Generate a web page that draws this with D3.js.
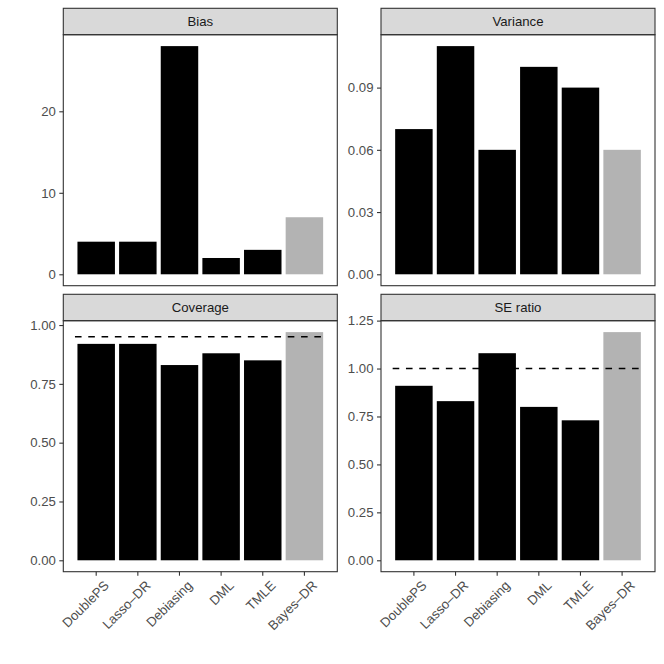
<!DOCTYPE html>
<html>
<head>
<meta charset="utf-8">
<script src="https://cdn.jsdelivr.net/npm/d3@7"></script>
<style>
  body { margin: 0; background: #fff; }
  text { font-family: "Liberation Sans", Arial, sans-serif; }
</style>
</head>
<body>
<div id="chart"></div>
<script>
// data
var methods = ["DoublePS", "Lasso\u2013DR", "Debiasing", "DML", "TMLE", "Bayes\u2013DR"];
var panelTitles = ["Bias", "Variance", "Coverage", "SE ratio"];
var biasValues = [4, 4, 28, 2, 3, 7];
var varianceValues = [0.07, 0.11, 0.06, 0.10, 0.09, 0.06];
var coverageValues = [0.92, 0.92, 0.83, 0.88, 0.85, 0.97];
var seRatioValues = [0.91, 0.83, 1.08, 0.80, 0.73, 1.19];
var biasTicks = [0, 10, 20];
var varianceTicks = [0, 0.03, 0.06, 0.09];
var coverageTicks = [0, 0.25, 0.5, 0.75, 1];
var seRatioTicks = [0, 0.25, 0.5, 0.75, 1, 1.25];
var refLines = [null, null, 0.95, 1.00];

var panels = [
    {title: panelTitles[0], values: biasValues, ticks: biasTicks, fmt: d3.format("d"), ref: refLines[0]},
    {title: panelTitles[1], values: varianceValues, ticks: varianceTicks, fmt: d3.format(".2f"), ref: refLines[1]},
    {title: panelTitles[2], values: coverageValues, ticks: coverageTicks, fmt: d3.format(".2f"), ref: refLines[2]},
    {title: panelTitles[3], values: seRatioValues, ticks: seRatioTicks, fmt: d3.format(".2f"), ref: refLines[3]}
];

var W = 664, H = 664;
var colX = [63.3, 381], rowY = [8.3, 294.3];
var pw = 274, stripH = 26.4, ph = 251;
var fontSize = "13.2px";

var svg = d3.select("#chart").append("svg")
    .attr("width", W)
    .attr("height", H);

panels.forEach(function(p, i){
    var col = i % 2, row = Math.floor(i / 2);
    var g = svg.append("g")
        .attr("transform", "translate(" + colX[col] + "," + rowY[row] + ")");

    // strip
    g.append("rect")
        .attr("x", 0).attr("y", 0)
        .attr("width", pw).attr("height", stripH)
        .attr("fill", "#d9d9d9")
        .attr("stroke", "#333333")
        .attr("stroke-width", 1.1);
    g.append("text")
        .attr("x", pw / 2).attr("y", stripH / 2)
        .attr("dy", "0.36em")
        .attr("text-anchor", "middle")
        .attr("font-size", fontSize)
        .attr("fill", "#1a1a1a")
        .text(p.title);

    var panel = g.append("g").attr("transform", "translate(0," + stripH + ")");

    var x = d3.scaleBand()
        .domain(methods)
        .range([0, pw])
        .paddingInner(0.1)
        .paddingOuter(0.34);

    var maxV = d3.max(p.values);
    var y = d3.scaleLinear()
        .domain([-0.05 * maxV, maxV * 1.05])
        .range([ph, 0]);

    panel.selectAll(".bar")
        .data(p.values)
        .enter()
        .append("rect")
        .attr("class", "bar")
        .attr("x", function(d, j){ return x(methods[j]); })
        .attr("width", x.bandwidth())
        .attr("y", function(d){ return y(d); })
        .attr("height", function(d){ return y(0) - y(d); })
        .attr("fill", function(d, j){ return j === methods.length - 1 ? "#b3b3b3" : "#000000"; });

    if (p.ref !== null) {
        panel.append("line")
            .attr("x1", x(methods[0]) - 2.5)
            .attr("x2", x(methods[methods.length - 1]) + x.bandwidth() + 2.5)
            .attr("y1", y(p.ref)).attr("y2", y(p.ref))
            .attr("stroke", "#000")
            .attr("stroke-width", 1.6)
            .attr("stroke-dasharray", "6.6,6.7");
    }

    panel.append("rect")
        .attr("x", 0).attr("y", 0)
        .attr("width", pw).attr("height", ph)
        .attr("fill", "none")
        .attr("stroke", "#333333")
        .attr("stroke-width", 1.1);

    // y axis
    var yAxis = panel.append("g")
        .call(d3.axisLeft(y).tickValues(p.ticks).tickFormat(p.fmt).tickSize(4).tickPadding(3.5));
    yAxis.select(".domain").remove();
    yAxis.selectAll(".tick line").attr("stroke", "#333333").attr("stroke-width", 1.1);
    yAxis.selectAll(".tick text")
        .attr("font-size", fontSize)
        .attr("fill", "#4d4d4d")
        .style("font-family", "'Liberation Sans', Arial, sans-serif");

    // x axis only on the bottom row
    if (row === 1) {
        var xAxis = panel.append("g")
            .attr("transform", "translate(0," + ph + ")");
        xAxis.selectAll("line")
            .data(methods)
            .enter()
            .append("line")
            .attr("x1", function(d){ return x(d) + x.bandwidth() / 2; })
            .attr("x2", function(d){ return x(d) + x.bandwidth() / 2; })
            .attr("y1", 0).attr("y2", 4)
            .attr("stroke", "#333333")
            .attr("stroke-width", 1.1);
        xAxis.selectAll("text")
            .data(methods)
            .enter()
            .append("text")
            .attr("transform", function(d){
                return "translate(" + (x(d) + x.bandwidth() / 2 + 7) + ",8) rotate(-45)";
            })
            .attr("dy", "0.71em")
            .attr("text-anchor", "end")
            .attr("font-size", fontSize)
            .attr("fill", "#4d4d4d")
            .text(function(d){ return d; });
    }
});
</script>
</body>
</html>
